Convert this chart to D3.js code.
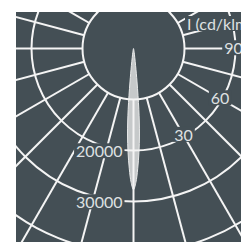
<!DOCTYPE html>
<html>
<head>
<meta charset="utf-8">
<script src="https://cdn.jsdelivr.net/npm/d3@7"></script>
<style>
  body { margin: 0; background: #fff; }
  svg { display: block; }
  text { font-family: Lato, "Open Sans", sans-serif; fill: #dfe1e2; }
</style>
</head>
<body>
<svg id="chart"></svg>
<script>
// luminous intensity, cd/klm, by angle from nadir (one half, the curve is symmetric)
var beamAngles = [0, 1, 2, 3, 4, 5, 6, 7, 8, 10, 12, 15, 20, 30, 45, 60, 75, 90];
var beamValues = [27700, 26300, 23600, 20400, 16800, 12000, 6600, 3400, 1800, 800, 400, 200, 100, 50, 20, 0, 0, 0];

var gridAngles = [0, 15, 30, 45, 60, 75, 90, 105, 120, 135, 150, 165, 180];
var circleValues = [10000, 20000, 30000, 40000, 50000];
var angleLabels = [90, 60, 30];
var intensityLabels = [20000, 30000];
var unitLabel = "I (cd/klm)";

var W = 241, H = 242,
  cx = 133.5, cy = 48.5,
  bg = "#444f55", line = "#f4f4f4";

var r = d3.scaleLinear().domain([0, 10000]).range([0, 51]);

var svg = d3.select("#chart").attr("width", W).attr("height", H);

svg.append("clipPath").attr("id", "plot")
  .append("rect").attr("x", 16).attr("y", 12).attr("width", W - 16).attr("height", H - 12);

var plot = svg.append("g").attr("clip-path", "url(#plot)");
plot.append("rect").attr("x", 16).attr("y", 12).attr("width", W - 16).attr("height", H - 12).attr("fill", bg);

var g = plot.append("g").attr("transform", "translate(" + cx + "," + cy + ")");

// beam: mirror the half curve to both sides
var pts = [];
for (var i = beamAngles.length - 1; i > 0; i--) pts.push([-beamAngles[i], beamValues[i]]);
for (var j = 0; j < beamAngles.length; j++) pts.push([beamAngles[j], beamValues[j]]);

var beam = d3.lineRadial()
  .angle(function(d) { return Math.PI - d[0] * Math.PI / 180; })
  .radius(function(d) { return r(d[1]); })
  .curve(d3.curveCatmullRom);

g.append("path")
  .attr("d", beam(pts) + "Z")
  .attr("fill", "#c6c9ca")
  .attr("stroke", "#e9eaea")
  .attr("stroke-width", 1);

// radial lines from the hub outward, both sides
var rays = [];
gridAngles.forEach(function(a) { rays.push(a); if (a > 0 && a < 180) rays.push(-a); });
g.selectAll(".ray").data(rays).enter().append("line")
  .attr("class", "ray")
  .attr("x1", function(a) { return r(10000) * Math.sin(a * Math.PI / 180); })
  .attr("y1", function(a) { return r(10000) * Math.cos(a * Math.PI / 180); })
  .attr("x2", function(a) { return 400 * Math.sin(a * Math.PI / 180); })
  .attr("y2", function(a) { return 400 * Math.cos(a * Math.PI / 180); })
  .attr("stroke", line).attr("stroke-width", 2);

g.selectAll(".ring").data(circleValues).enter().append("circle")
  .attr("class", "ring")
  .attr("r", function(d) { return r(d); })
  .attr("fill", "none")
  .attr("stroke", line).attr("stroke-width", 2);

// labels sit on the rings with a knocked-out background
function knock(t, pad) {
  var b = t.node().getBBox();
  g.insert("rect", function() { return t.node(); })
    .attr("x", b.x - pad).attr("y", b.y + 2)
    .attr("width", b.width + 2 * pad).attr("height", b.height - 4)
    .attr("fill", bg);
}

angleLabels.forEach(function(a) {
  var rr = r(20000) - 2;
  var t = g.append("text")
    .attr("x", rr * Math.sin(a * Math.PI / 180))
    .attr("y", rr * Math.cos(a * Math.PI / 180))
    .attr("dy", "0.36em")
    .attr("text-anchor", "middle")
    .style("font-size", "16px")
    .text(a);
  knock(t, 2);
});

intensityLabels.forEach(function(v) {
  var t = g.append("text")
    .attr("x", -11)
    .attr("y", r(v) + 1)
    .attr("dy", "0.36em")
    .attr("text-anchor", "end")
    .style("font-size", "16px")
    .text(v);
  knock(t, 2);
});

var u = g.append("text")
  .attr("x", 187 - cx).attr("y", 30 - cy)
  .style("font-size", "16px")
  .text(unitLabel);
knock(u, 2);
</script>
</body>
</html>
